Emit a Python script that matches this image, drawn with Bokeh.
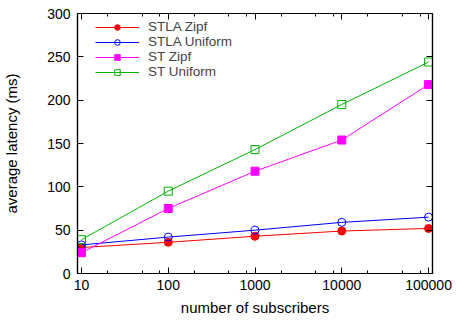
from bokeh.plotting import figure
from bokeh.models import (LogAxis, LinearAxis, FixedTicker, Legend, LegendItem,
                          Range1d, ColumnDataSource)
from bokeh.embed import file_html
from bokeh.resources import INLINE

subscribers = [10, 100, 1000, 10000, 100000]
stla_zipf = [30, 36, 43, 49, 52]
stla_uniform = [33, 42, 50, 59, 65]
st_zipf = [24, 75, 118, 154, 218]
st_uniform = [39, 95, 143, 195, 244]

series = [
    ("STLA Zipf", stla_zipf, "#ff0000", "circle", True),
    ("STLA Uniform", stla_uniform, "#0000ff", "circle", False),
    ("ST Zipf", st_zipf, "#ff00ff", "square", True),
    ("ST Uniform", st_uniform, "#00b400", "square", False),
]

x_major = [10, 100, 1000, 10000, 100000]
x_minor = [d * m for d in [1, 10, 100, 1000, 10000] for m in (2, 5, 8)]
y_major = [0, 50, 100, 150, 200, 250, 300]

FONT = "Liberation Sans"

p = figure(width=456, height=320, x_axis_type="log", y_axis_type="linear",
           x_range=Range1d(9, 111000), y_range=Range1d(0, 300),
           output_backend="svg", toolbar_location=None,
           min_border_left=75, min_border_right=24, min_border_top=13,
           min_border_bottom=47)
p.xgrid.visible = False
p.ygrid.visible = False
p.outline_line_color = "black"
p.outline_line_width = 1.2
p.background_fill_color = "white"
p.border_fill_color = "white"

xt = FixedTicker(ticks=x_major, minor_ticks=x_minor)
yt = FixedTicker(ticks=y_major, minor_ticks=[])

def style(ax, labels=True):
    ax.axis_line_color = "black"
    ax.axis_line_width = 1.2
    ax.major_tick_in = 6
    ax.major_tick_out = 0
    ax.minor_tick_in = 3
    ax.minor_tick_out = 0
    ax.major_tick_line_color = "black"
    ax.minor_tick_line_color = "black"
    ax.major_label_text_font = FONT
    ax.axis_label_text_font = FONT
    ax.axis_label_text_font_style = "normal"
    ax.major_label_text_color = "black"
    ax.axis_label_text_color = "black"
    if labels:
        ax.major_label_text_font_size = "14px"
        ax.axis_label_text_font_size = "15px"
    else:
        ax.major_label_text_font_size = "1px"
        ax.major_label_text_alpha = 0
        ax.major_label_standoff = 0

xa = p.xaxis[0]
xa.ticker = xt
style(xa)
xa.axis_label = "number of subscribers"
xa.major_label_standoff = 6
xa.axis_label_standoff = 6
xa.major_label_overrides = {v: str(v) for v in x_major}

ya = p.yaxis[0]
ya.ticker = yt
style(ya)
ya.axis_label = "average latency (ms)"
ya.major_label_standoff = 7
ya.axis_label_standoff = 24

top = LogAxis(ticker=xt)
style(top, labels=False)
p.add_layout(top, "above")
right = LinearAxis(ticker=yt)
style(right, labels=False)
p.add_layout(right, "right")

items = []
for name, vals, color, marker, filled in series:
    src = ColumnDataSource(dict(x=subscribers, y=vals))
    ln = p.line("x", "y", source=src, line_color=color, line_width=1)
    sc = p.scatter("x", "y", source=src, marker=marker, size=8,
                   line_color=color, line_width=1,
                   fill_color=color if filled else None)
    items.append(LegendItem(label=name, renderers=[ln, sc]))

legend = Legend(items=items, location=(18, 194), orientation="vertical",
                glyph_width=44, glyph_height=14, label_height=14, spacing=0,
                padding=0, margin=0, label_standoff=9,
                label_text_font=FONT, label_text_font_size="13.5px",
                border_line_alpha=0, background_fill_alpha=0)
p.add_layout(legend, "center")

open("out.html", "w").write(file_html(p, INLINE))
